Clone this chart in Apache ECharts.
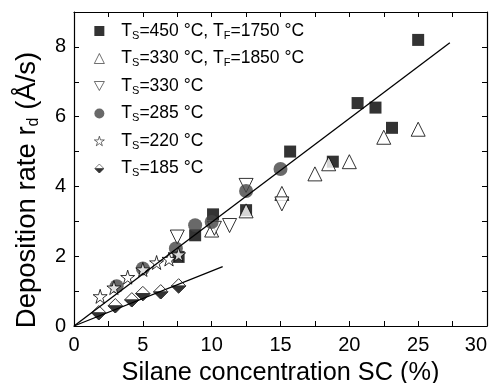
<!DOCTYPE html>
<html>
<head>
<meta charset="utf-8">
<script src="https://cdn.jsdelivr.net/npm/echarts@6/dist/echarts.min.js"></script>
<style>
  html, body { margin: 0; padding: 0; background: #fff; }
  #chart { width: 492px; height: 383px; }
</style>
</head>
<body>
<div id="chart"></div>
<script>
// [SC %, rd Å/s]
const ts450 = [[7.6, 1.98], [8.8, 2.6], [10.1, 3.2], [12.5, 3.32], [15.7, 5.0], [18.8, 4.71], [20.6, 6.39], [21.9, 6.26], [23.1, 5.68], [25.0, 8.2]]
const ts330tf = [[10.0, 2.75], [12.5, 3.3], [15.1, 3.8], [17.5, 4.36], [18.5, 4.65], [20.0, 4.71], [22.5, 5.41], [25.0, 5.64]]
const ts330 = [[7.5, 2.55], [10.2, 2.8], [11.3, 2.88], [12.5, 4.03], [15.1, 3.5]]
const ts285 = [[3.1, 1.14], [5.0, 1.65], [7.4, 2.22], [8.8, 2.89], [10.0, 2.98], [12.5, 3.87], [15.0, 4.5]]
const ts220 = [[1.9, 0.85], [2.9, 1.1], [3.9, 1.4], [5.0, 1.62], [6.0, 1.82], [6.9, 1.92], [7.6, 2.05]]
const ts185 = [[1.8, 0.38], [3.0, 0.58], [4.2, 0.75], [5.0, 0.93], [6.3, 0.98], [7.6, 1.15]]
const fitHigh = [[0, 0], [27.3, 8.12]]
const fitLow = [[0, 0], [10.8, 1.7]]
const xTicks = [0, 5, 10, 15, 20, 25, 30]
const yTicks = [0, 2, 4, 6, 8]

const names = ['TS=450 °C, TF=1750 °C', 'TS=330 °C, TF=1850 °C', 'TS=330 °C', 'TS=285 °C', 'TS=220 °C', 'TS=185 °C']
const richNames = {
  'TS=450 °C, TF=1750 °C': '{t|T}{s|S}{t|=450 °C, T}{s|F}{t|=1750 °C}',
  'TS=330 °C, TF=1850 °C': '{t|T}{s|S}{t|=330 °C, T}{s|F}{t|=1850 °C}',
  'TS=330 °C': '{t|T}{s|S}{t|=330 °C}',
  'TS=285 °C': '{t|T}{s|S}{t|=285 °C}',
  'TS=220 °C': '{t|T}{s|S}{t|=220 °C}',
  'TS=185 °C': '{t|T}{s|S}{t|=185 °C}',
}

const font = 'Liberation Sans'
const star = 'path://M50,0 L61,35 L98,35 L68,57 L79,91 L50,70 L21,91 L32,57 L2,35 L39,35 Z'
const downTri = 'path://M0,0 L20,0 L10,18 Z'
const halfDiamondSvg = "<svg xmlns='http://www.w3.org/2000/svg' width='40' height='40' viewBox='0 0 40 40'>" +
  "<polygon points='20,2 38,20 20,38 2,20' fill='white' stroke='black' stroke-width='2.5'/>" +
  "<polygon points='2,20 38,20 20,38' fill='black' stroke='black' stroke-width='2.5'/></svg>"
const halfDiamond = 'image://data:image/svg+xml;charset=utf-8,' + encodeURIComponent(halfDiamondSvg)

const hollow = { color: '#fff', borderColor: '#000', borderWidth: 1 }

const chart = echarts.init(document.getElementById('chart'))

const xBase = {
  type: 'value', min: 0, max: 30, interval: 5,
  axisLine: { show: true, onZero: false, lineStyle: { color: '#000', width: 1.2 } },
  axisTick: { show: true, inside: true, length: 5, lineStyle: { color: '#000' } },
  minorTick: { show: true, splitNumber: 2, length: 5, lineStyle: { color: '#000' } },
  splitLine: { show: false },
}
const yBase = {
  type: 'value', min: 0, max: 9, interval: 2,
  axisLine: { show: true, onZero: false, lineStyle: { color: '#000', width: 1.2 } },
  axisTick: { show: true, inside: true, length: 5, lineStyle: { color: '#000' } },
  minorTick: { show: true, splitNumber: 2, length: 5, lineStyle: { color: '#000' } },
  splitLine: { show: false },
}

chart.setOption({
  backgroundColor: '#fff',
  animation: false,
  textStyle: { fontFamily: font },
  grid: { left: 74, right: 5, top: 12, bottom: 57, containLabel: false, outerBoundsMode: 'none' },
  legend: {
    orient: 'vertical', left: 89, top: 17,
    itemWidth: 10, itemHeight: 10, itemGap: 8.5,
    itemStyle: { borderWidth: 0.7 },
    data: names,
    formatter: (n) => richNames[n],
    textStyle: {
      fontFamily: font, color: '#000', padding: [0, 0, 0, 12],
      rich: {
        t: { fontSize: 17.5, fontFamily: font, color: '#000' },
        s: { fontSize: 11, fontFamily: font, color: '#000', padding: [9, 0, 0, 0] },
      },
    },
  },
  xAxis: [
    Object.assign({}, xBase, {
      position: 'bottom',
      name: 'Silane concentration SC (%)', nameLocation: 'middle', nameGap: 35,
      nameTextStyle: { fontSize: 25.3, fontFamily: font, color: '#000' },
      axisLabel: {
        fontSize: 20, color: '#000', margin: 9, alignMaxLabel: 'right',
        formatter: (v) => xTicks.includes(v) ? String(v) : '',
      },
    }),
    Object.assign({}, xBase, { position: 'top', axisLabel: { show: false } }),
  ],
  yAxis: [
    Object.assign({}, yBase, {
      position: 'left',
      name: '{a|Deposition rate r}{s|d}{e| (Å/s)}', nameLocation: 'middle', nameGap: 32,
      nameTextStyle: {
        color: '#000',
        rich: {
          a: { fontSize: 27.5, fontFamily: font, color: '#000' },
          s: { fontSize: 16, fontFamily: font, color: '#000', padding: [13, 0, 0, 0] },
          e: { fontSize: 27.5, fontFamily: font, color: '#000', padding: [0, 42, 0, 0] },
        },
      },
      axisLabel: { fontSize: 20, color: '#000', margin: 8, formatter: (v) => yTicks.includes(v) ? String(v) : '' },
    }),
    Object.assign({}, yBase, { position: 'right', axisLabel: { show: false } }),
  ],
  series: [
    { name: names[0], type: 'scatter', data: ts450, symbol: 'rect', symbolSize: 12, itemStyle: { color: '#000' } },
    { name: names[1], type: 'scatter', data: ts330tf, symbol: 'triangle', symbolSize: 14, itemStyle: hollow },
    { name: names[2], type: 'scatter', data: ts330, symbol: downTri, symbolSize: 14, itemStyle: hollow },
    { name: names[3], type: 'scatter', data: ts285, symbol: 'circle', symbolSize: 14, itemStyle: { color: '#444' } },
    { name: names[4], type: 'scatter', data: ts220, symbol: star, symbolSize: 14, itemStyle: hollow },
    { name: names[5], type: 'scatter', data: ts185, symbol: halfDiamond, symbolSize: 16 },
    { type: 'line', data: fitHigh, symbol: 'none', z: 5, lineStyle: { color: '#000', width: 1.3 } },
    { type: 'line', data: fitLow, symbol: 'none', z: 5, lineStyle: { color: '#000', width: 1.3 } },
  ],
})
</script>
</body>
</html>
